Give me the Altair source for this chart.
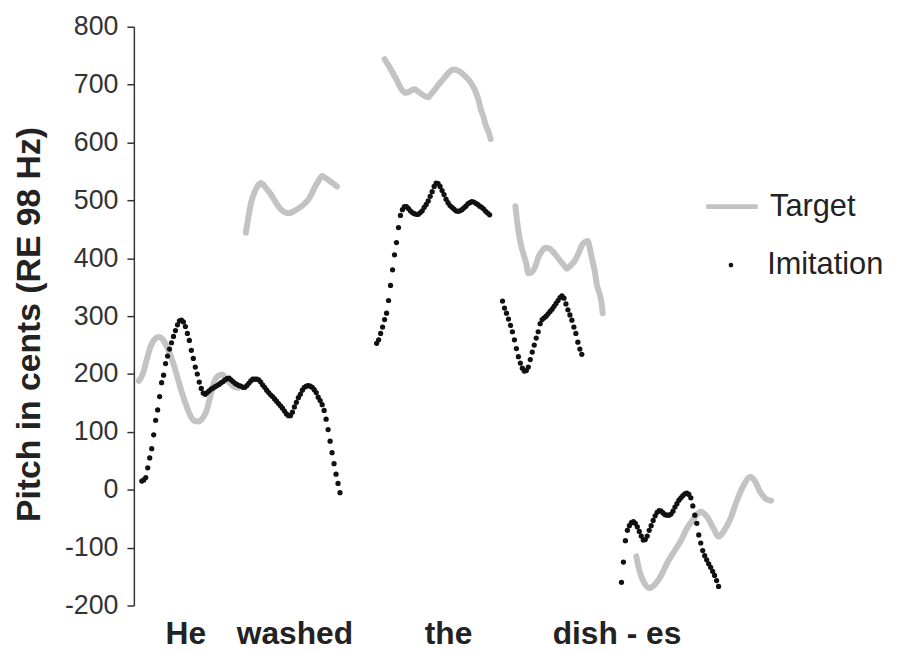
import altair as alt
import pandas as pd

FONT = "Liberation Sans"

# ---------------- data (time in frames, pitch in cents re 98 Hz) ----------------
# Target (grey line), one array pair per syllable
tgt_he_t = [5, 9, 13, 17, 21, 25, 29, 33, 37, 41, 45, 49, 53, 57, 61, 65, 69, 73, 77, 81, 85, 89, 93, 97, 101, 105]
tgt_he_v = [188, 200, 225, 248, 260, 264, 260, 248, 232, 212, 188, 165, 145, 128, 119, 118, 123, 135, 160, 186, 197, 199, 192, 184, 178, 176]

tgt_washed_t = [113, 115, 118, 122, 128, 133, 138, 143, 148, 153, 157, 162, 167, 172, 175, 179, 182, 186, 190, 194, 198, 202, 205]
tgt_washed_v = [444, 465, 494, 515, 530, 522, 511, 497, 485, 479, 478, 482, 487, 494, 499, 510, 521, 533, 542, 538, 533, 528, 524]

tgt_the_t = [253, 257, 262, 266, 270, 274, 277, 280, 283, 287, 290, 294, 297, 300, 303, 307, 312, 317, 322, 326, 330, 334, 338, 342, 345, 348, 350, 353, 355, 358, 360]
tgt_the_v = [744, 733, 718, 705, 692, 686, 687, 690, 692, 688, 684, 680, 678, 684, 690, 699, 709, 719, 726, 725, 721, 715, 708, 698, 687, 672, 658, 643, 630, 618, 606]

tgt_dish_t = [385, 387, 389, 391, 393, 396, 398, 401, 403, 406, 408, 411, 415, 419, 422, 426, 430, 434, 437, 441, 445, 449, 453, 458, 460, 462, 465, 467, 470, 472, 473]
tgt_dish_v = [490, 460, 437, 420, 408, 390, 374, 375, 379, 390, 401, 410, 418, 417, 413, 405, 396, 388, 382, 388, 396, 410, 425, 430, 418, 401, 378, 356, 338, 322, 305]

tgt_es_t = [507, 510, 515, 520, 525, 532, 538, 545, 552, 558, 565, 572, 578, 585, 590, 595, 602, 608, 615, 622, 627, 632, 638, 643]
tgt_es_v = [-115, -139, -161, -170, -165, -148, -127, -107, -88, -67, -50, -38, -46, -67, -81, -72, -50, -21, 7, 22, 14, -4, -16, -19]

# Imitation (black dots), sampled every 2 frames from the given start frame
imi_he_start = 8
imi_he_v = [15, 17, 21, 38, 55, 71, 95, 120, 138, 161, 185, 198, 218, 231, 243, 254, 265, 275, 285, 292,
            293, 290, 282, 270, 258, 241, 227, 212, 200, 186, 175, 167, 165, 168, 171, 174, 176, 178, 180, 182,
            185, 187, 190, 192, 193, 190, 187, 184, 182, 180, 179, 177, 177, 180, 184, 188, 191, 191, 191, 190,
            186, 181, 177, 172, 168, 164, 161, 157, 153, 149, 145, 141, 136, 131, 128, 128, 134, 143, 151, 159,
            165, 172, 177, 179, 180, 179, 177, 173, 168, 160, 154, 147, 137, 122, 104, 84, 64, 45, 27, 11, -5]

imi_the_start = 245
imi_the_v = [253, 259, 270, 281, 294, 305, 327, 353, 380, 406, 427, 453, 474, 484, 489, 489, 486, 482, 479, 477,
             476, 476, 479, 482, 488, 493, 499, 507, 515, 524, 530, 529, 524, 517, 510, 502, 496, 491, 488, 485,
             482, 481, 482, 484, 487, 490, 494, 496, 498, 497, 495, 493, 490, 488, 485, 481, 478, 475]

imi_dish_start = 372
imi_dish_v = [326, 314, 305, 295, 284, 273, 259, 244, 230, 219, 210, 205, 206, 212, 225, 238, 250, 262, 273, 287,
              294, 297, 300, 304, 308, 312, 317, 322, 327, 332, 335, 331, 321, 311, 302, 293, 281, 270, 255, 243, 234]

imi_es_start = 492
imi_es_v = [-160, -125, -88, -70, -62, -57, -55, -58, -64, -72, -80, -87, -86, -80, -70, -62, -53, -45, -39, -36,
            -37, -40, -43, -44, -44, -42, -37, -30, -24, -18, -14, -10, -7, -6, -8, -14, -28, -44, -58, -78,
            -92, -105, -114, -121, -128, -134, -141, -148, -157, -167]

words = ["He", "washed", "the", "dish - es"]
word_pos = [52, 162, 317, 487]

# ---------------- tables ----------------
rows = []
for seg, (ts, vs) in {"he": (tgt_he_t, tgt_he_v), "washed": (tgt_washed_t, tgt_washed_v),
                      "the": (tgt_the_t, tgt_the_v), "dish": (tgt_dish_t, tgt_dish_v),
                      "es": (tgt_es_t, tgt_es_v)}.items():
    for t, v in zip(ts, vs):
        rows.append({"t": t, "v": v, "seg": seg, "series": "Target"})
target_df = pd.DataFrame(rows)

rows = []
for seg, (start, vs) in {"he": (imi_he_start, imi_he_v), "the": (imi_the_start, imi_the_v),
                         "dish": (imi_dish_start, imi_dish_v), "es": (imi_es_start, imi_es_v)}.items():
    for i, v in enumerate(vs):
        rows.append({"t": start + 2 * i, "v": v, "seg": seg, "series": "Imitation"})
imit_df = pd.DataFrame(rows)

label_expr = " : ".join(
    [f"datum.value == {p} ? '{w}'" for p, w in zip(word_pos, words)]
) + " : ''"

x_enc = alt.X(
    "t:Q",
    scale=alt.Scale(domain=[0, 650], nice=False, zero=False),
    axis=alt.Axis(
        values=word_pos, labelExpr=label_expr, domain=False, ticks=False, grid=False,
        labelFont=FONT, labelFontSize=32, labelFontWeight="bold", labelColor="#222222",
        labelPadding=13, title=None,
    ),
)
y_enc = alt.Y(
    "v:Q",
    scale=alt.Scale(domain=[-200, 800], nice=False, zero=False),
    axis=alt.Axis(
        values=list(range(-200, 801, 100)), grid=False, labelExpr="'' + datum.value",
        title="Pitch in cents (RE 98 Hz)",
        tickSize=7, tickColor="#333333", tickWidth=1.5,
        domainColor="#333333", domainWidth=1.5,
        labelFont=FONT, labelFontSize=27, labelColor="#333333", labelPadding=9,
        titleFont=FONT, titleFontSize=34, titleFontWeight="bold", titleColor="#222222",
        titleAngle=270, titleBaseline="middle", titleAlign="center", titleX=-105, titleY=300,
    ),
)

lines = alt.Chart(target_df).mark_line(strokeWidth=6, interpolate="monotone", strokeCap="round", strokeJoin="round").encode(
    x=x_enc, y=y_enc, detail="seg:N",
    color=alt.Color(
        "series:N",
        scale=alt.Scale(domain=["Target"], range=["#c3c3c3"]),
        legend=alt.Legend(
            orient="none", legendX=575, legendY=153, title=None, padding=0,
            symbolType="stroke", symbolSize=2704, symbolStrokeWidth=5,
            labelFont=FONT, labelFontSize=31, labelColor="#222222", labelOffset=10,
        ),
    ),
)

dots = alt.Chart(imit_df).mark_point(filled=True, size=28, opacity=1).encode(
    x=x_enc, y=y_enc,
    color=alt.Color(
        "series:N",
        scale=alt.Scale(domain=["Imitation"], range=["#111111"]),
        legend=alt.Legend(
            orient="none", legendX=587, legendY=225, title=None, padding=0,
            symbolType="circle", symbolSize=22,
            labelFont=FONT, labelFontSize=31, labelColor="#222222", labelOffset=21,
        ),
    ),
)

chart = alt.layer(lines, dots).resolve_scale(color="independent").properties(
    width=650, height=584,
    autosize=alt.AutoSizeParams(type="none"),
    padding={"left": 127, "top": 16, "right": 115, "bottom": 44},
    background="white",
).configure_view(stroke=None)

chart.save("out.html", embed_options={"renderer": "svg", "actions": False})
